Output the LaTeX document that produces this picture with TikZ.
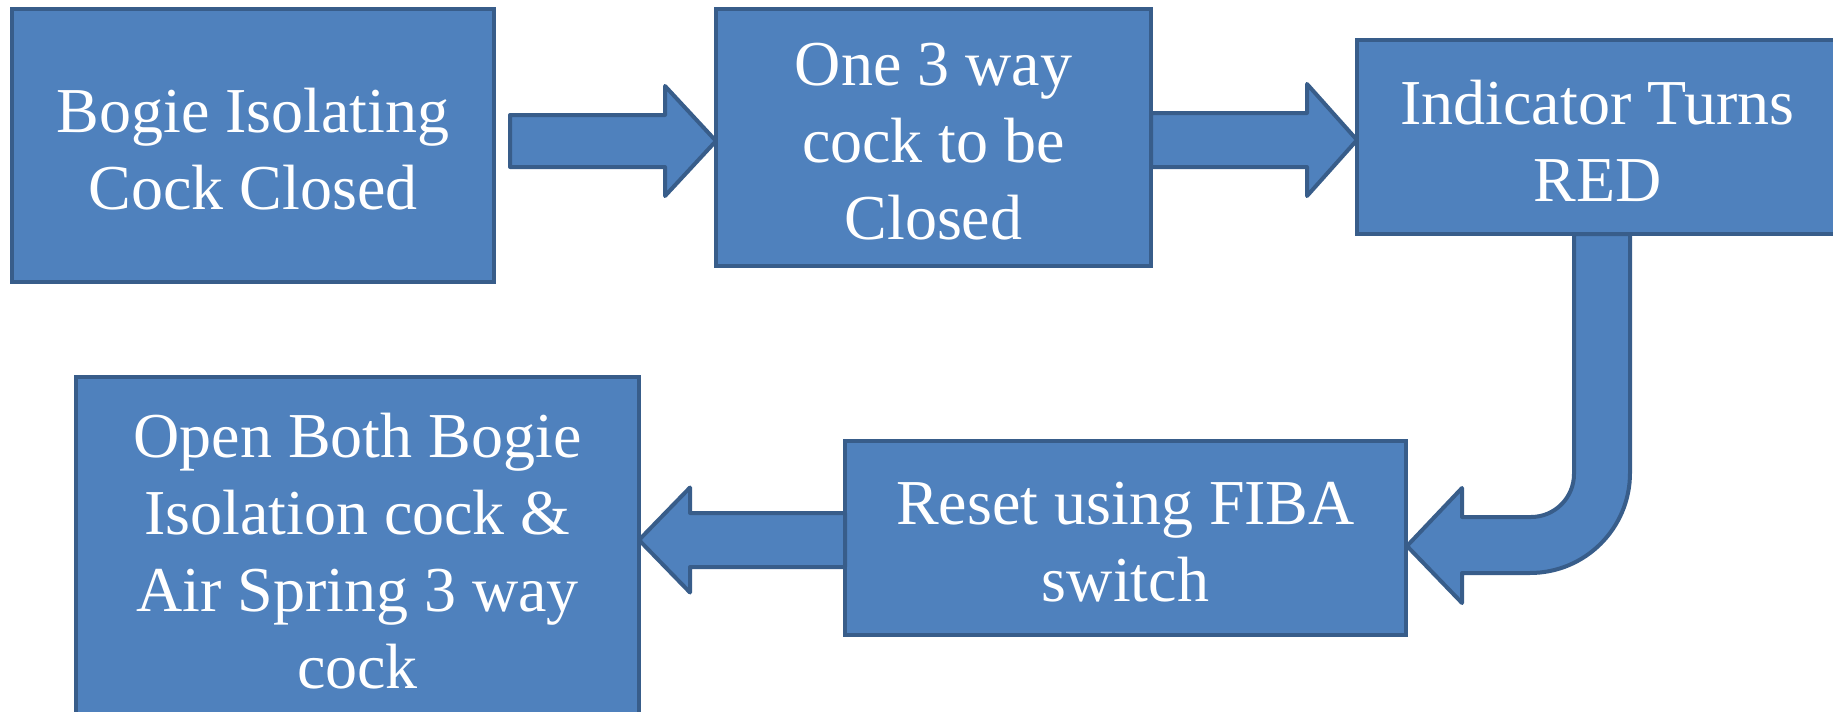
\documentclass[tikz,border=0pt]{standalone}
\usepackage{fontspec}
\setmainfont{Liberation Serif}
\usetikzlibrary{calc}
\definecolor{boxfill}{HTML}{4F81BD}
\definecolor{boxline}{HTML}{385D8A}
\tikzset{
  stepbox/.style 2 args={draw=boxline, fill=boxfill, line width=2pt,
    inner sep=0pt, outer sep=0pt, minimum width=#1, minimum height=#2},
  steptext/.style={text=white, align=center, inner sep=0pt,
    font=\fontsize{32}{38.5}\selectfont,
    execute at begin node=\strut, execute at end node=\strut},
  arrowshape/.style={draw=boxline, fill=boxfill, line width=2pt, line join=round},
}
% straight block arrow: start, tip, shaft half width, head half width, head base offset from tip
\newcommand\fatarrow[5]{%
  \draw[arrowshape] ($(#1)+(0,-#3)$) -- ($(#2)+(#5,-#3)$) -- ($(#2)+(#5,-#4)$)
    -- (#2) -- ($(#2)+(#5,#4)$) -- ($(#2)+(#5,#3)$) -- ($(#1)+(0,#3)$) -- cycle;}
\begin{document}
\begin{tikzpicture}[x=0.5pt, y=-0.5pt]
\useasboundingbox (0,0) rectangle (1833,712);
\fill[white] (0,0) rectangle (1833,712);

% boxes
\node[stepbox={241pt}{136.5pt}] (b1) at (253,145.5) {};
\node[stepbox={217.5pt}{128.5pt}] (b2) at (933.5,137.5) {};
\node[stepbox={240.5pt}{97pt}] (b3) at (1597.5,137) {};
\node[stepbox={280.5pt}{97pt}] (b4) at (1125.5,538) {};
\node[stepbox={281.5pt}{170pt}] (b5) at (357.5,547) {};

% straight arrows
\coordinate (a1s) at ($(b1.east)+(16,-4.5)$);
\coordinate (a1t) at (b2.west |- a1s);
\fatarrow{a1s}{a1t}{26}{55}{-51}
\coordinate (a2s) at ($(b2.east)+(0,2.5)$);
\coordinate (a2t) at (b3.west |- a2s);
\fatarrow{a2s}{a2t}{27}{56}{-50}
\coordinate (a3s) at ($(b4.west)+(0,2)$);
\coordinate (a3t) at (b5.east |- a3s);
\fatarrow{a3s}{a3t}{27}{52.5}{51}

% bent arrow from the indicator box down to the reset box
\coordinate (bs) at ($(b3.south)+(4.5,0)$);
\coordinate (bt) at ($(b4.east)+(1,8)$);
\draw[arrowshape] ($(bs)+(-28,0)$) -- ($(bs)+(-28,240)$)
  arc[start angle=0, end angle=90, radius=43]
  -- ($(bt)+(55,-29)$) -- ($(bt)+(55,-58)$) -- (bt)
  -- ($(bt)+(55,57)$) -- ($(bt)+(55,27)$) -- ($(bs)+(-72,339)$)
  arc[start angle=90, end angle=0, radius=100]
  -- ($(bs)+(28,0)$) -- cycle;

% labels
\node[steptext] (t1) at ($(b1.center)+(0,15)$) {Bogie Isolating\\Cock Closed};
\node[steptext] (t2) at ($(b2.center)+(0,15)$) {One 3 way\\cock to be\\Closed};
\node[steptext] (t3) at ($(b3.center)+(0,15)$) {Indicator Turns\\RED};
\node[steptext] (t4) at ($(b4.center)+(0,15)$) {Reset using FIBA\\switch};
\node[steptext] (t5) at ($(b5.center)+(0,15)$) {Open Both Bogie\\Isolation cock \&\\Air Spring 3 way\\cock};
\end{tikzpicture}
\end{document}
